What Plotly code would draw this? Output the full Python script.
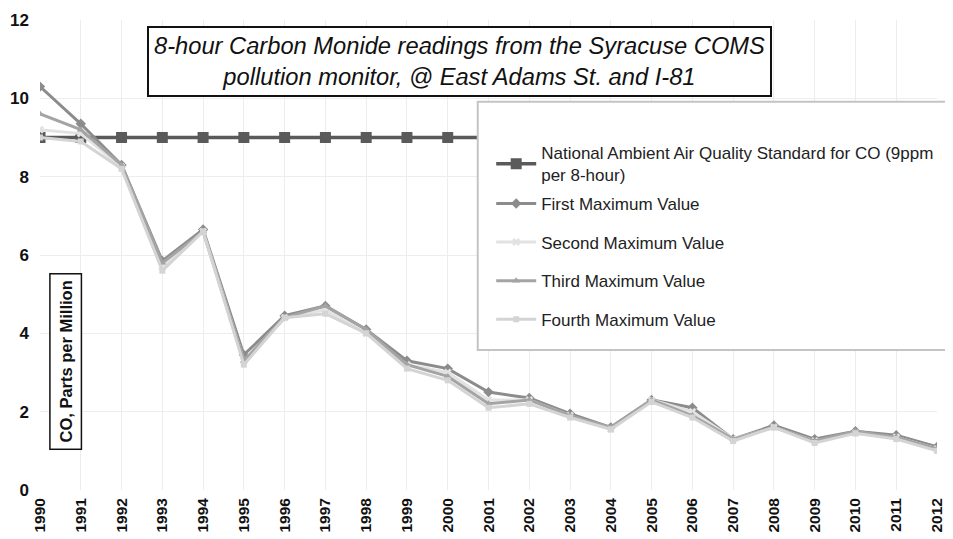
import plotly.graph_objects as go

years = list(range(1990, 2013))
naaqs = [9] * 23
first_max = [10.3, 9.35, 8.3, 5.85, 6.65, 3.45, 4.45, 4.7, 4.1, 3.3, 3.1, 2.5, 2.35, 1.95, 1.6, 2.3, 2.1, 1.3, 1.65, 1.3, 1.5, 1.4, 1.1]
second_max = [9.2, 9.1, 8.25, 5.7, 6.6, 3.3, 4.4, 4.6, 4.0, 3.2, 3.0, 2.3, 2.3, 1.9, 1.55, 2.3, 2.0, 1.3, 1.6, 1.25, 1.45, 1.35, 1.05]
third_max = [9.6, 9.2, 8.3, 5.8, 6.6, 3.3, 4.4, 4.7, 4.1, 3.2, 2.9, 2.2, 2.3, 1.9, 1.6, 2.3, 1.9, 1.3, 1.6, 1.25, 1.5, 1.35, 1.05]
fourth_max = [9.0, 8.9, 8.2, 5.6, 6.6, 3.2, 4.4, 4.5, 4.0, 3.1, 2.8, 2.1, 2.2, 1.85, 1.55, 2.25, 1.85, 1.25, 1.6, 1.2, 1.45, 1.3, 1.0]
y_ticks = [0, 2, 4, 6, 8, 10, 12]

series = [
    ("National Ambient Air Quality Standard for CO (9ppm<br>per 8-hour)", naaqs, "#5a5a5a", "square", 11, 3.5, "legend"),
    ("First Maximum Value", first_max, "#8c8c8c", "diamond", 8, 3, "legend2"),
    ("Second Maximum Value", second_max, "#e2e2e2", "x", 7, 3, "legend2"),
    ("Third Maximum Value", third_max, "#a4a4a4", "triangle-up", 7, 3, "legend2"),
    ("Fourth Maximum Value", fourth_max, "#d4d4d4", "square", 6, 3, "legend2"),
]

fig = go.Figure()
for i, (name, vals, col, sym, ms, lw, lg) in enumerate(series):
    fig.add_trace(go.Scatter(
        x=years, y=vals, name=name, mode="lines+markers",
        line=dict(color=col, width=lw),
        marker=dict(symbol=sym, size=ms, color=col),
        legendgroup=f"g{i}", legend=lg,
    ))

font_family = "Liberation Sans, Arial, sans-serif"
legend_style = dict(
    xanchor="left", yanchor="top",
    bgcolor="rgba(0,0,0,0)", borderwidth=0,
    font=dict(size=17, color="#222"),
    itemwidth=40,
)

# page is offset by the 8px body margin; figure sized to fit the window
fig.update_layout(
    width=945, height=531,
    margin=dict(l=32, r=16, t=12, b=49, autoexpand=False),
    paper_bgcolor="white", plot_bgcolor="white",
    font=dict(family=font_family, color="#111"),
    showlegend=True,
    legend=dict(x=0.503, y=0.755, **legend_style),
    legend2=dict(x=0.503, y=0.647, tracegroupgap=13.5, **legend_style),
    xaxis=dict(
        range=[1990, 2012], tickmode="array", tickvals=years,
        ticktext=[f"<b>{y}</b>" for y in years], tickangle=-90,
        tickfont=dict(size=15.5, color="#111"), ticklabelstandoff=4,
        showgrid=True, gridcolor="#ededed", gridwidth=1,
        zeroline=False, showline=False, ticks="", automargin=False,
    ),
    yaxis=dict(
        range=[0, 12], tickmode="array", tickvals=y_ticks,
        ticktext=[f"<b>{v}</b>" for v in y_ticks],
        tickfont=dict(size=17, color="#111"), ticklabelstandoff=10,
        showgrid=True, gridcolor="#ededed", gridwidth=1,
        zeroline=False, showline=False, ticks="", automargin=False,
    ),
    shapes=[
        dict(type="rect", xref="paper", yref="paper",
             x0=0.488, x1=1.04, y0=0.298, y1=0.826,
             fillcolor="white", line=dict(color="#c4c4c4", width=2), layer="above"),
    ],
    annotations=[
        dict(
            text="<i>8-hour Carbon Monide readings from the Syracuse COMS<br>pollution monitor, @ East Adams St. and I-81</i>",
            xref="paper", yref="paper", x=0.468, y=0.911, xanchor="center", yanchor="middle",
            showarrow=False, font=dict(size=23.7, color="#111", family=font_family),
            bordercolor="#111", borderwidth=2, bgcolor="white", borderpad=5,
        ),
        dict(
            text="<b>CO, Parts per Million</b>",
            xref="x", yref="y", x=1990.64, y=3.27, xanchor="center", yanchor="middle",
            textangle=-90, showarrow=False, font=dict(size=16.5, color="#111"),
            bordercolor="#111", borderwidth=1.5, bgcolor="white", borderpad=6,
        ),
    ],
)

fig.write_html("out.html")
